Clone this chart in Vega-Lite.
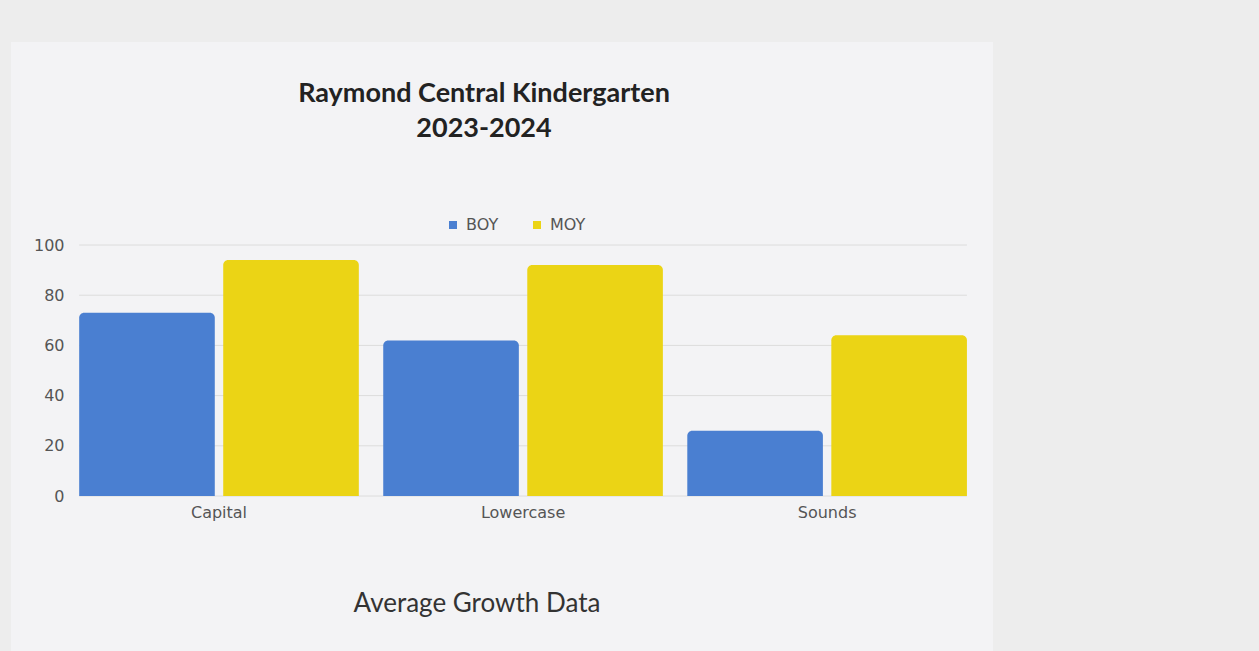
{
  "$schema": "https://vega.github.io/schema/vega-lite/v6.json",
  "autosize": {"type": "none"},
  "width": 982,
  "height": 609,
  "padding": {"left": 11, "top": 42, "right": 266, "bottom": 0},
  "background": "#ededed",
  "config": {
    "view": {"fill": "#f3f3f5", "stroke": null},
    "axis": {"labelFont": "DejaVu Sans", "labelFontSize": 16, "labelColor": "#555555", "domain": false, "ticks": false, "tickSize": 0, "grid": false}
  },
  "title": {
    "text": ["Raymond Central Kindergarten", "2023-2024"],
    "font": "Lato",
    "fontWeight": "bold",
    "fontSize": 27,
    "color": "#222222",
    "anchor": "middle",
    "frame": "group",
    "orient": "top",
    "offset": 0,
    "baseline": "alphabetic",
    "lineHeight": 35,
    "dx": -18,
    "dy": 122
  },
  "datasets": {
    "scores": [
      {"skill": "Capital", "period": "BOY", "score": 73},
      {"skill": "Capital", "period": "MOY", "score": 94},
      {"skill": "Lowercase", "period": "BOY", "score": 62},
      {"skill": "Lowercase", "period": "MOY", "score": 92},
      {"skill": "Sounds", "period": "BOY", "score": 26},
      {"skill": "Sounds", "period": "MOY", "score": 64}
    ],
    "grid": [{"v": 0}, {"v": 20}, {"v": 40}, {"v": 60}, {"v": 80}, {"v": 100}]
  },
  "layer": [
    {
      "data": {"name": "grid"},
      "mark": {"type": "rule", "color": "#dcdcdc", "strokeWidth": 1},
      "encoding": {
        "y": {"field": "v", "type": "quantitative"},
        "x": {"datum": "Capital", "type": "nominal", "bandPosition": 0},
        "x2": {"datum": "Sounds", "bandPosition": 1}
      }
    },
    {
      "data": {"name": "scores"},
      "mark": {"type": "bar", "cornerRadiusTopLeft": 5, "cornerRadiusTopRight": 5},
      "encoding": {
        "x": {
          "field": "skill",
          "type": "nominal",
          "sort": ["Capital", "Lowercase", "Sounds"],
          "scale": {"paddingInner": 0.0803, "paddingOuter": 0.155, "align": 0.7234},
          "axis": {
            "labelAngle": 0,
            "labelAlign": "center",
            "bandPosition": 0.5,
            "offset": -155,
            "labelPadding": 16,
            "title": "Average Growth Data",
            "titleFont": "Lato",
            "titleFontSize": 26,
            "titleFontWeight": "normal",
            "titleColor": "#333333",
            "titleX": 465.5,
            "titleY": 115,
            "titleBaseline": "alphabetic",
            "titleAlign": "center"
          }
        },
        "xOffset": {
          "field": "period",
          "type": "nominal",
          "scale": {"paddingInner": 0.0585, "paddingOuter": 0}
        },
        "y": {
          "field": "score",
          "type": "quantitative",
          "stack": null,
          "scale": {"domain": [-61.75, 180.88], "nice": false, "zero": false},
          "axis": {"values": [0, 20, 40, 60, 80, 100], "offset": -57, "labelPadding": 4, "title": null}
        },
        "color": {
          "field": "period",
          "type": "nominal",
          "scale": {"domain": ["BOY", "MOY"], "range": ["#4a7fd1", "#ebd415"]},
          "legend": {
            "title": null,
            "orient": "none",
            "direction": "horizontal",
            "legendX": 434,
            "legendY": 175,
            "padding": 0,
            "symbolType": "square",
            "symbolSize": 64,
            "symbolStrokeWidth": 0,
            "labelFont": "DejaVu Sans",
            "labelFontSize": 16,
            "labelColor": "#555555",
            "labelOffset": 5,
            "columnPadding": 30
          }
        }
      }
    }
  ]
}
